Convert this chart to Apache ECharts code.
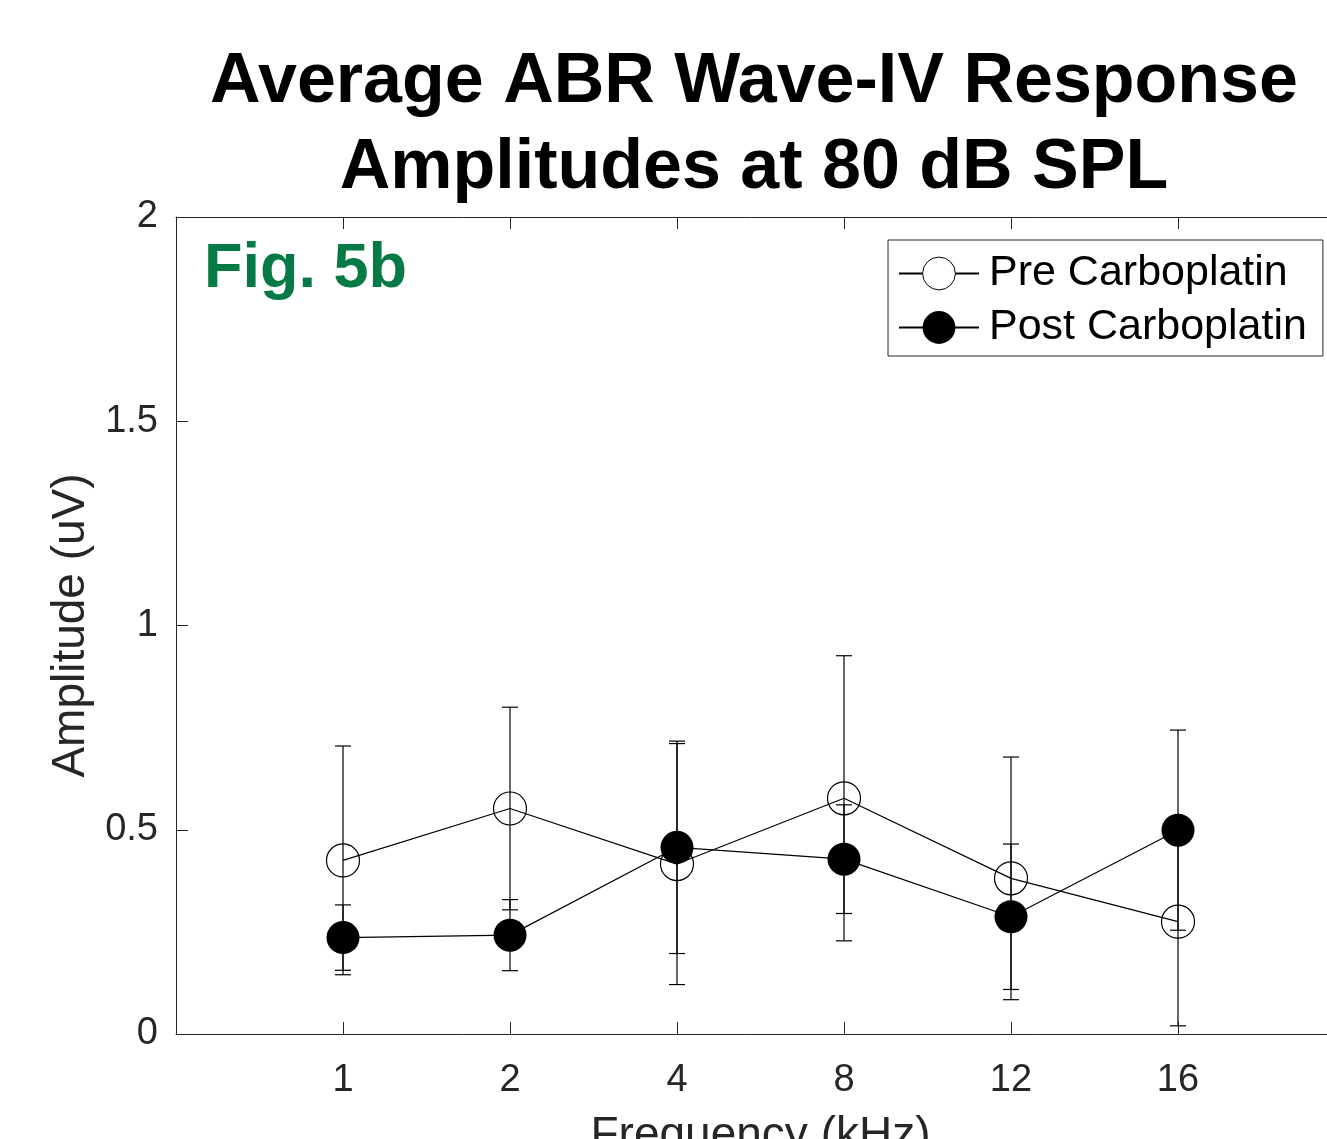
<!DOCTYPE html>
<html>
<head>
<meta charset="utf-8">
<script src="https://cdn.jsdelivr.net/npm/echarts@6/dist/echarts.min.js"></script>
<style>
html,body{margin:0;padding:0;background:#fff;}
#chart{width:1327px;height:1139px;}
</style>
</head>
<body>
<div id="chart"></div>
<script>
// ---- data ----
const categories = ['1', '2', '4', '8', '12', '16'];           // Frequency (kHz)
const preMean  = [0.425, 0.552, 0.416, 0.577, 0.381, 0.275];
const preErr   = [0.280, 0.248, 0.295, 0.349, 0.297, 0.255];
const postMean = [0.236, 0.242, 0.457, 0.428, 0.287, 0.499];
const postErr  = [0.080, 0.087, 0.260, 0.133, 0.178, 0.245];
const yTicks   = [0, 0.5, 1, 1.5, 2];

const FONT = 'Liberation Sans, Arial, Helvetica, sans-serif';
const AXIS_COLOR = '#262626';

const chart = echarts.init(document.getElementById('chart'), null, {renderer: 'canvas'});

function errData(mean, err) {
  return mean.map((m, i) => [i + 1, m - err[i], m + err[i]]);
}
function errRender(params, api) {
  const x = api.value(0);
  const top = api.coord([x, api.value(2)]);
  const bot = api.coord([x, api.value(1)]);
  const hw = 8;
  const st = {stroke: '#000', lineWidth: 1.2};
  return {
    type: 'group',
    children: [
      {type: 'line', shape: {x1: top[0], y1: top[1], x2: bot[0], y2: bot[1]}, style: st},
      {type: 'line', shape: {x1: top[0] - hw, y1: top[1], x2: top[0] + hw, y2: top[1]}, style: st},
      {type: 'line', shape: {x1: bot[0] - hw, y1: bot[1], x2: bot[0] + hw, y2: bot[1]}, style: st}
    ]
  };
}

const xCommon = {
  type: 'value', min: 0, max: categories.length + 1, interval: 1,
  axisLine: {show: true, onZero: false, lineStyle: {color: AXIS_COLOR, width: 1}},
  axisTick: {show: true, inside: true, length: 12, lineStyle: {color: AXIS_COLOR, width: 1}},
  splitLine: {show: false}
};

const option = {
  backgroundColor: '#fff',
  animation: false,
  graphic: [
    {type: 'text', x: 754, y: 40, style: {
      text: 'Average ABR Wave-IV Response\nAmplitudes at 80 dB SPL',
      fill: '#000', font: 'bold 70px ' + FONT, lineHeight: 86,
      textAlign: 'center', textVerticalAlign: 'top'}},
    {type: 'text', x: 204, y: 270, z: 10, style: {
      text: 'Fig. 5b', fill: '#067a45', font: 'bold 63px ' + FONT,
      textAlign: 'left', textVerticalAlign: 'middle'}}
  ],
  grid: {left: 176, top: 217, width: 1169, height: 817, containLabel: false, outerBoundsMode: 'none'},
  legend: {
    orient: 'vertical', left: 888, top: 240,
    itemWidth: 80, itemHeight: 41, itemGap: 11,
    padding: [12, 16, 7, 10],
    borderColor: AXIS_COLOR, borderWidth: 1, backgroundColor: '#fff',
    textStyle: {fontSize: 43, fontFamily: FONT, color: '#000', lineHeight: 41, padding: [0, 0, 0, 5]},
    data: [
      {name: 'Pre Carboplatin', itemStyle: {color: '#fff', borderColor: '#000', borderWidth: 1}},
      {name: 'Post Carboplatin'}
    ]
  },
  xAxis: [
    Object.assign({}, xCommon, {
      position: 'bottom',
      name: 'Frequency (kHz)', nameLocation: 'middle', nameGap: 79,
      nameTextStyle: {fontSize: 46, fontFamily: FONT, color: AXIS_COLOR},
      axisLabel: {
        show: true, margin: 28, fontSize: 38, fontFamily: FONT, color: AXIS_COLOR,
        formatter: v => (v >= 1 && v <= categories.length) ? categories[v - 1] : ''
      }
    }),
    Object.assign({}, xCommon, {position: 'top', axisLabel: {show: false}})
  ],
  yAxis: {
    type: 'value', min: yTicks[0], max: yTicks[yTicks.length - 1], interval: 0.5,
    name: 'Amplitude (uV)', nameLocation: 'middle', nameGap: 82, nameRotate: 90,
    nameTextStyle: {fontSize: 46, fontFamily: FONT, color: AXIS_COLOR},
    axisLine: {show: true, onZero: false, lineStyle: {color: AXIS_COLOR, width: 1}},
    axisTick: {show: true, inside: true, length: 12, lineStyle: {color: AXIS_COLOR}},
    axisLabel: {margin: 18, fontSize: 38, fontFamily: FONT, color: AXIS_COLOR},
    splitLine: {show: false}
  },
  series: [
    {type: 'custom', name: 'preErr', renderItem: errRender, data: errData(preMean, preErr),
     encode: {x: 0, y: [1, 2]}, z: 1, silent: true},
    {type: 'custom', name: 'postErr', renderItem: errRender, data: errData(postMean, postErr),
     encode: {x: 0, y: [1, 2]}, z: 1, silent: true},
    {type: 'line', name: 'Pre Carboplatin', z: 3,
     data: preMean.map((m, i) => [i + 1, m]),
     symbol: 'circle', symbolSize: 33, showAllSymbol: true,
     lineStyle: {color: '#000', width: 1.2},
     itemStyle: {color: 'rgba(0,0,0,0)', borderColor: '#000', borderWidth: 1.2}},
    {type: 'line', name: 'Post Carboplatin', z: 4,
     data: postMean.map((m, i) => [i + 1, m]),
     symbol: 'circle', symbolSize: 33, showAllSymbol: true,
     lineStyle: {color: '#000', width: 1.2},
     itemStyle: {color: '#000', borderColor: '#000', borderWidth: 0}}
  ]
};
chart.setOption(option);
</script>
</body>
</html>
